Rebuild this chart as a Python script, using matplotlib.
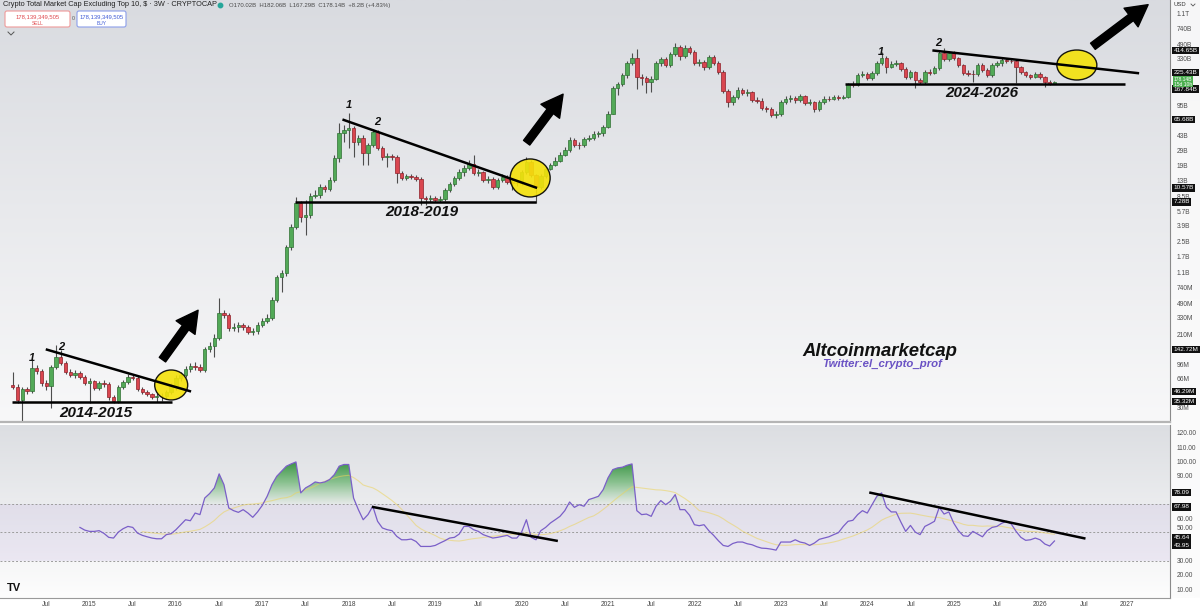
import numpy as np
import pandas as pd
import matplotlib
matplotlib.use("Agg")
import matplotlib.pyplot as plt
from matplotlib import patches, transforms
from matplotlib.colors import LinearSegmentedColormap, to_rgb
from matplotlib.path import Path
from matplotlib.ticker import NullLocator

plt.rcParams['font.family'] = ['Liberation Sans', 'DejaVu Sans']

# ---------------- data (3W candles, values in USD billions) ----------------
first_open = 0.055
closes = [0.052, 0.037, 0.049, 0.047, 0.087, 0.080, 0.058, 0.054, 0.089, 0.117,
          0.099, 0.078, 0.072, 0.076, 0.068, 0.058, 0.061, 0.051, 0.058, 0.057,
          0.040, 0.036, 0.052, 0.060, 0.068, 0.066, 0.049, 0.046, 0.043, 0.040,
          0.041, 0.0415, 0.046, 0.054, 0.066, 0.072, 0.085, 0.092, 0.089, 0.082,
          0.144, 0.156, 0.193, 0.376, 0.357, 0.252, 0.259, 0.273, 0.259, 0.227,
          0.233, 0.273, 0.304, 0.329, 0.532, 0.986, 1.09, 2.19, 3.74, 7.06,
          4.87, 5.14, 8.55, 8.78, 10.9, 10.3, 13.1, 23.5, 45.8, 49.6,
          52.4, 36.0, 40.2, 26.9, 33.3, 47.0, 30.7, 24.2, 24.8, 24.2,
          15.8, 13.8, 14.6, 14.2, 13.5, 8.09, 7.89, 8.09, 7.67, 7.89,
          10.0, 11.8, 13.8, 16.2, 18.0, 20.0, 15.8, 16.2, 13.1, 13.5,
          10.9, 13.1, 14.2, 12.4, 12.2, 12.1, 16.2, 21.1, 15.0, 10.9,
          14.6, 17.6, 19.5, 21.7, 25.5, 29.1, 38.0, 33.3, 33.0, 39.1,
          40.2, 44.6, 45.8, 53.9, 76.1, 152, 169, 215, 296, 339,
          204, 198, 178, 193, 296, 330, 281, 378, 454, 357,
          442, 398, 296, 305, 267, 348, 296, 233, 140, 104,
          119, 144, 133, 137, 110, 107, 89.1, 86.8, 74.1, 76.1,
          104, 113, 115, 110, 123, 101, 104, 86.8, 104, 113,
          112, 119, 116, 119, 169, 167, 215, 221, 198, 227,
          296, 339, 267, 289, 296, 253, 204, 233, 188, 178,
          233, 230, 260, 388, 330, 388, 339, 281, 227, 224,
          221, 281, 246, 215, 281, 296, 321, 316, 313, 267,
          233, 215, 204, 221, 204, 178, 170.02, 178.14]
highs = [0.078, 0.057, 0.052, 0.052, 0.117, 0.094, 0.085, 0.063, 0.094, 0.160,
         0.140, 0.104, 0.085, 0.082, 0.080, 0.072, 0.066, 0.063, 0.061, 0.063,
         0.060, 0.042, 0.055, 0.063, 0.074, 0.074, 0.070, 0.052, 0.048, 0.044,
         0.044, 0.044, 0.048, 0.058, 0.072, 0.078, 0.092, 0.099, 0.101, 0.096,
         0.152, 0.173, 0.215, 0.561, 0.407, 0.376, 0.288, 0.296, 0.288, 0.273,
         0.252, 0.296, 0.329, 0.367, 0.577, 1.04, 1.18, 2.31, 4.05, 8.32,
         7.47, 7.67, 9.23, 10.0, 11.8, 11.5, 14.2, 25.5, 59.8, 56.8,
         78.2, 55.3, 43.5, 43.5, 35.0, 51.1, 49.6, 32.4, 26.9, 26.2,
         25.5, 16.6, 15.4, 15.4, 15.0, 14.2, 8.55, 8.78, 8.55, 8.55,
         10.6, 12.4, 14.6, 17.6, 19.5, 22.3, 25.5, 17.6, 16.6, 14.6,
         14.2, 13.8, 15.4, 15.0, 13.5, 13.1, 17.1, 24.2, 22.3, 15.4,
         15.4, 18.5, 20.6, 24.2, 27.6, 31.6, 41.2, 40.2, 36.0, 41.2,
         43.5, 48.3, 48.3, 56.8, 82.5, 161, 178, 227, 313, 388,
         431, 221, 209, 209, 313, 348, 348, 398, 505, 479,
         479, 466, 420, 330, 321, 367, 367, 313, 246, 148,
         126, 156, 152, 148, 140, 119, 116, 94.0, 91.5, 82.5,
         110, 123, 126, 123, 130, 126, 113, 107, 110, 123,
         123, 126, 126, 126, 174, 183, 227, 240, 233, 240,
         313, 398, 357, 313, 321, 305, 267, 246, 240, 198,
         246, 253, 274, 409, 442, 409, 409, 348, 289, 246,
         246, 296, 296, 260, 296, 313, 339, 339, 339, 330,
         274, 240, 221, 233, 233, 209, 188, 182.06]
lows = [0.049, 0.034, 0.021, 0.043, 0.044, 0.074, 0.054, 0.048, 0.030, 0.085,
        0.094, 0.074, 0.068, 0.066, 0.065, 0.055, 0.034, 0.048, 0.048, 0.052,
        0.037, 0.034, 0.034, 0.049, 0.057, 0.063, 0.047, 0.043, 0.041, 0.038,
        0.035, 0.036, 0.038, 0.043, 0.048, 0.061, 0.068, 0.078, 0.082, 0.078,
        0.078, 0.133, 0.117, 0.183, 0.329, 0.233, 0.233, 0.227, 0.239, 0.215,
        0.209, 0.215, 0.259, 0.288, 0.312, 0.504, 0.659, 1.01, 2.02, 3.54,
        4.27, 3.02, 4.75, 8.09, 8.09, 9.48, 9.74, 12.4, 21.1, 36.0,
        30.7, 24.2, 33.3, 19.5, 19.5, 31.6, 29.1, 22.3, 18.5, 22.3,
        12.1, 13.1, 13.1, 13.5, 12.8, 6.72, 6.72, 7.27, 7.27, 7.27,
        7.47, 9.48, 11.2, 13.1, 14.6, 17.1, 15.0, 14.6, 12.4, 12.1,
        10.3, 10.3, 12.4, 11.8, 10.0, 11.2, 11.5, 15.4, 14.2, 7.06,
        10.3, 13.8, 17.1, 19.0, 21.1, 24.8, 27.6, 31.6, 29.9, 31.6,
        37.0, 38.0, 41.2, 42.4, 52.4, 76.1, 126, 161, 198, 281,
        148, 165, 133, 137, 188, 274, 267, 267, 357, 321,
        339, 378, 281, 274, 246, 253, 281, 221, 133, 91.5,
        96.5, 113, 126, 123, 104, 101, 84.7, 80.3, 70.2, 68.4,
        72.2, 99.1, 104, 101, 104, 96.5, 96.5, 80.3, 82.5, 99.1,
        107, 110, 110, 113, 116, 156, 161, 204, 188, 188,
        215, 281, 227, 260, 274, 240, 193, 193, 152, 169,
        169, 215, 221, 246, 313, 313, 321, 267, 215, 209,
        178, 209, 233, 204, 204, 267, 274, 296, 296, 174,
        221, 204, 193, 198, 193, 156, 165, 167.29]

# RSI(14), first value on bar 15
rsi_start = 14
rsi = [53.5, 51.6, 50.7, 50.7, 51.2, 49.3, 46.5, 46.0, 50.2, 52.6,
       54.2, 53.5, 49.5, 47.9, 46.9, 46.0, 45.5, 45.5, 48.4, 49.1,
       51.9, 55.4, 58.9, 58.2, 63.6, 62.5, 74.2, 77.3, 81.3, 91.2,
       83.6, 67.2, 65.3, 64.1, 66.0, 63.6, 60.6, 64.4, 69.1, 75.4,
       83.6, 89.5, 93.1, 96.6, 98.2, 99.6, 77.8, 81.3, 83.2, 85.5,
       84.8, 85.5, 87.2, 90.7, 96.6, 97.8, 97.8, 74.2, 66.0, 58.9,
       62.5, 68.4, 57.8, 53.1, 51.9, 51.2, 47.2, 44.8, 44.8, 45.3,
       43.6, 40.1, 40.1, 40.1, 40.8, 42.5, 44.1, 46.0, 46.5, 48.8,
       54.2, 54.2, 51.9, 50.7, 48.4, 47.2, 46.0, 46.5, 47.2, 47.9,
       46.0, 46.0, 50.2, 58.9, 46.5, 44.8, 51.2, 53.5, 56.6, 58.9,
       61.3, 65.3, 71.4, 67.6, 69.5, 68.4, 73.1, 74.2, 75.4, 80.1,
       88.4, 94.2, 95.4, 95.9, 97.3, 98.2, 65.3, 62.5, 62.9, 61.3,
       68.4, 72.4, 69.5, 71.9, 76.6, 66.0, 66.0, 62.0, 55.4, 54.7,
       55.4, 51.2, 47.9, 44.1, 40.8, 40.1, 42.2, 43.2, 43.2, 42.0,
       41.3, 39.9, 38.9, 38.7, 38.2, 37.5, 43.2, 43.2, 43.2, 44.8,
       43.2, 42.5, 40.8, 42.5, 45.1, 46.0, 46.9, 48.4, 49.8, 54.2,
       57.8, 58.5, 62.5, 65.3, 63.6, 69.5, 75.4, 77.8, 67.6, 64.4,
       64.4, 57.3, 50.7, 54.9, 50.2, 48.4, 54.2, 55.9, 57.8, 67.6,
       62.9, 64.4, 56.6, 51.2, 47.6, 47.2, 50.7, 48.8, 46.9, 51.2,
       53.5, 54.2, 56.4, 57.8, 55.9, 50.7, 46.5, 44.4, 44.8, 46.0,
       44.8, 41.8, 40.4, 43.95]

# drawings: (start year, end year, start value, end value) in $B
support_lines = [(2014.11, 2015.96, 0.03532, 0.03532),
                 (2017.38, 2020.17, 7.28, 7.28),
                 (2023.74, 2026.98, 167.84, 167.84)]
trend_lines = [(2014.50, 2016.18, 0.14272, 0.04629),
               (2017.93, 2020.18, 65.68, 10.57),
               (2024.75, 2027.14, 414.65, 225.43)]
rsi_lines = [(2018.27, 2020.42, 67.98, 43.95),
             (2024.02, 2026.52, 78.09, 45.64)]
circles = [(2015.95, 0.0551, 33, 30), (2020.10, 13.8, 40, 38), (2026.42, 281, 40, 30)]
arrows = [((2015.83, 0.102), (2016.28, 0.43)),
          ((2020.04, 33.3), (2020.50, 137)),
          ((2026.58, 443), (2027.27, 1470))]
range_labels = [(2015.08, 0.0261, '2014-2015'), (2018.85, 5.61, '2018-2019'),
                (2025.32, 134, '2024-2026')]
peak_labels = [(2014.34, 0.113, '1'), (2014.68, 0.152, '2'), (2018.00, 96.8, '1'),
               (2018.33, 61.9, '2'), (2024.15, 401, '1'), (2024.82, 509, '2')]

# axis tags: (value, text, where the tag box sits so stacked tags stay readable)
price_tags = [(414.65, '414.65B', 414.65), (225.43, '225.43B', 229),
              (167.84, '167.84B', 148), (65.68, '65.68B', 65.68),
              (10.57, '10.57B', 10.57), (7.28, '7.28B', 7.28),
              (0.14272, '142.72M', 0.14272), (0.04629, '46.29M', 0.04629),
              (0.03532, '35.32M', 0.03532)]
last_tag = (178.14, '178.14B\n15d 10h', 180)
rsi_tags = [(78.09, '78.09'), (67.98, '67.98'), (45.64, '45.64'), (43.95, '43.95')]
rsi_tag_pos = [78.09, 67.98, 46.4, 41.0]

y_ticks = [1100, 740, 490, 330, 95, 43, 29, 19, 13, 8.5, 5.7, 3.9, 2.5, 1.7, 1.1,
           0.74, 0.49, 0.33, 0.21, 0.096, 0.066, 0.030]
y_labels = ['1.1T', '740B', '490B', '330B', '95B', '43B', '29B', '19B', '13B', '8.5B',
            '5.7B', '3.9B', '2.5B', '1.7B', '1.1B', '740M', '490M', '330M', '210M',
            '96M', '66M', '30M']
rsi_ticks = [120, 110, 100, 90, 60, 30, 20, 10]
x_ticks = [2014.5, 2015, 2015.5, 2016, 2016.5, 2017, 2017.5, 2018, 2018.5, 2019, 2019.5,
           2020, 2020.5, 2021, 2021.5, 2022, 2022.5, 2023, 2023.5, 2024, 2024.5,
           2025, 2025.5, 2026, 2026.5, 2027]
x_labels = ['Jul', '2015', 'Jul', '2016', 'Jul', '2017', 'Jul', '2018', 'Jul', '2019', 'Jul',
            '2020', 'Jul', '2021', 'Jul', '2022', 'Jul', '2023', 'Jul', '2024', 'Jul',
            '2025', 'Jul', '2026', 'Jul', '2027']

# time axis of this chart
first_bar = 2014.118
bar_step = 0.0555
X0, X1 = 2013.971, 2027.497

# ---------------- figure ----------------
W, H = 1200, 609
fig = plt.figure(figsize=(W / 100, H / 100), dpi=100)


def box(x0, y0, x1, y1):
    return [x0 / W, 1 - y1 / H, (x1 - x0) / W, (y1 - y0) / H]


bg = fig.add_axes([0, 0, 1, 1], zorder=-5)


def vgrad(x0, x1, y0, y1, top, bot):
    s = np.linspace(0, 1, 200)[:, None]
    img = (np.array(to_rgb(top)) * (1 - s) + np.array(to_rgb(bot)) * s)[:, None, :]
    bg.imshow(img, extent=[x0, x1, y1, y0], aspect='auto', interpolation='bilinear')


vgrad(0, W, 0, H, '#ffffff', '#ffffff')
vgrad(0, 1170, 0, 423, '#d9dbe0', '#f8f8f9')
vgrad(0, 1170, 425, 598, '#dcdee2', '#fdfdfd')
vgrad(1170, W, 0, 598, '#f6f6f7', '#fcfcfc')
bg.set_xlim(0, W)
bg.set_ylim(H, 0)
bg.axis('off')

# header
bg.text(3, 5, 'Crypto Total Market Cap Excluding Top 10, $ · 3W · CRYPTOCAP',
        fontsize=5.3, color='#222222', va='center')
bg.plot([220], [5], 'o', ms=3.2, color='#26a69a')
bg.text(229, 5, 'O170.02B  H182.06B  L167.29B  C178.14B  +8.2B (+4.83%)',
        fontsize=4.3, color='#4a4a4a', va='center')
bg.add_patch(patches.FancyBboxPatch((5, 11), 65, 16, boxstyle='round,pad=0,rounding_size=2',
                                    fc='white', ec='#ef9a9a', lw=0.8))
bg.text(37.5, 16.5, '178,139,349,505', fontsize=4.2, color='#e0474c', ha='center', va='center')
bg.text(37.5, 23.5, 'SELL', fontsize=3.5, color='#e0474c', ha='center', va='center')
bg.text(73.5, 19, '0', fontsize=3.8, color='#555555', ha='center', va='center')
bg.add_patch(patches.FancyBboxPatch((77, 11), 49, 16, boxstyle='round,pad=0,rounding_size=2',
                                    fc='white', ec='#8c9eea', lw=0.8))
bg.text(101.5, 16.5, '178,139,349,505', fontsize=4.2, color='#3f5bd6', ha='center', va='center')
bg.text(101.5, 23.5, 'BUY', fontsize=3.5, color='#3f5bd6', ha='center', va='center')
bg.plot([8, 11, 14], [32, 35, 32], color='#555555', lw=0.7)
bg.text(1173, 5, 'USD', fontsize=4.2, color='#333333', va='center')
bg.plot([1191, 1193, 1195], [4, 6, 4], color='#555555', lw=0.6)
bg.text(14, 588, 'TV', fontsize=8, fontweight='heavy', color='#111111', ha='center', va='center')

# ---------------- price pane ----------------
ax = fig.add_axes(box(0, 0, 1170, 422))
ax.patch.set_visible(False)
ax.set_yscale('log')

n = len(closes)
t = first_bar + bar_step * np.arange(n)
c = np.array(closes, dtype=float)
o = np.r_[first_open, c[:-1]]
hi = np.maximum.reduce([np.array(highs, dtype=float), o, c])
lo = np.minimum.reduce([np.array(lows, dtype=float), o, c])
up = c >= o
face = np.where(up, '#52a957', '#d9464f')
edge = np.where(up, '#2f6f33', '#8e2029')

ax.vlines(t, lo, hi, colors='#4d4d4d', lw=0.8, zorder=2)
ax.bar(t, np.abs(c - o), bottom=np.minimum(o, c), width=0.04, color=face,
       edgecolor=edge, linewidth=0.5, zorder=3)

ax.set_xlim(X0, X1)
ax.set_ylim(0.02052, 1592)

for (x1, x2, v1, v2) in support_lines + trend_lines:
    ax.plot([x1, x2], [v1, v2], color='black', lw=1.8, zorder=5, solid_capstyle='butt')

for (cx, cv, w, h) in circles:
    px, py = ax.transData.transform((cx, cv))
    ax.add_patch(patches.Ellipse((px, py), w, h, transform=transforms.IdentityTransform(),
                                 fc='#f5e20a', ec='black', lw=1.0, alpha=0.9, zorder=4))

for (a, b) in arrows:
    ax.add_patch(patches.FancyArrowPatch(
        a, b, arrowstyle='simple,head_length=1.1,head_width=1.2,tail_width=0.4',
        mutation_scale=14, color='black', zorder=6, clip_on=False))

for (x, v, s) in range_labels:
    ax.text(x, v, s, fontsize=11, fontweight='bold', fontstyle='italic', color='#111111',
            ha='center', va='center', zorder=7)
for (x, v, s) in peak_labels:
    ax.text(x, v, s, fontsize=8, fontweight='bold', fontstyle='italic', color='#111111',
            ha='center', va='center', zorder=7)

ax.yaxis.tick_right()
ax.set_yticks(y_ticks)
ax.set_yticklabels(y_labels)
ax.yaxis.set_minor_locator(NullLocator())
ax.tick_params(axis='y', which='both', length=0, pad=5, labelsize=4.8, labelcolor='#4d4d4d')
ax.set_xticks([])
for s in ['top', 'left']:
    ax.spines[s].set_visible(False)
ax.spines['right'].set_color('#8a8a8a')
ax.spines['right'].set_linewidth(0.8)
ax.spines['bottom'].set_color('#b5b5b5')
ax.spines['bottom'].set_linewidth(1.6)

blend = transforms.blended_transform_factory(ax.transAxes, ax.transData)
for v, s, pos in price_tags:
    ax.text(1.003, pos, s, transform=blend, fontsize=4.6, color='white', ha='left', va='center',
            bbox=dict(boxstyle='square,pad=0.2', fc='#111111', ec='none'), clip_on=False, zorder=20)
ax.text(1.003, last_tag[2], last_tag[1], transform=blend, fontsize=3.6, color='white',
        ha='left', va='center', linespacing=1.0,
        bbox=dict(boxstyle='square,pad=0.12', fc='#4caf50', ec='none'), clip_on=False, zorder=21)

fig.text(880 / W, 1 - 351 / H, 'Altcoinmarketcap', fontsize=13.3, fontweight='bold',
         fontstyle='italic', color='#111111', ha='center', va='center')
fig.text(882 / W, 1 - 364 / H, 'Twitter:el_crypto_prof', fontsize=8.2, fontweight='bold',
         fontstyle='italic', color='#6a52c4', ha='center', va='center')

# ---------------- RSI pane ----------------
ax2 = fig.add_axes(box(0, 425, 1170, 598))
ax2.patch.set_visible(False)
rsi_full = np.full(n, np.nan)
rsi_full[rsi_start:rsi_start + len(rsi)] = rsi
rsi_ma = pd.Series(rsi_full).rolling(14).mean().to_numpy()

ax2.axhspan(30, 70, color='#7e57c2', alpha=0.09, lw=0, zorder=1)
for lvl in (70, 50, 30):
    ax2.axhline(lvl, color='#9c9c9c', lw=0.7, ls=(0, (2, 2)), zorder=1)

above = np.nan_to_num(rsi_full, nan=0) > 70
fb = ax2.fill_between(t, 70, np.nan_to_num(rsi_full, nan=70), where=above, interpolate=True,
                      facecolor='none', edgecolor='none')
paths = fb.get_paths()
if paths:
    clip = Path.make_compound_path(*paths)
    cmap = LinearSegmentedColormap.from_list(
        'ob', [(0.42, 0.72, 0.42, 0.05), (0.30, 0.66, 0.33, 0.6), (0.18, 0.55, 0.22, 0.95)])
    img = ax2.imshow(np.linspace(0, 1, 100).reshape(-1, 1), extent=[X0, X1, 70, 100],
                     origin='lower', aspect='auto', cmap=cmap, zorder=2)
    img.set_clip_path(clip, transform=ax2.transData)

ax2.plot(t, rsi_ma, color='#ecd35a', lw=0.8, alpha=0.55, zorder=3)
ax2.plot(t, rsi_full, color='#7a5fc8', lw=0.9, zorder=4)
for (x1, x2, v1, v2) in rsi_lines:
    ax2.plot([x1, x2], [v1, v2], color='black', lw=1.8, zorder=5, solid_capstyle='butt')

ax2.set_xlim(X0, X1)
ax2.set_ylim(3.8, 125.6)
ax2.yaxis.tick_right()
ax2.set_yticks(rsi_ticks)
ax2.set_yticklabels(['%.2f' % v for v in rsi_ticks])
ax2.tick_params(axis='y', length=0, pad=5, labelsize=4.8, labelcolor='#4d4d4d')
ax2.set_xticks(x_ticks)
ax2.set_xticklabels(x_labels)
ax2.tick_params(axis='x', length=0, pad=2.5, labelsize=4.8, labelcolor='#444444')
for s in ['top', 'left']:
    ax2.spines[s].set_visible(False)
ax2.spines['right'].set_color('#8a8a8a')
ax2.spines['right'].set_linewidth(0.8)
ax2.spines['bottom'].set_color('#9a9a9a')
ax2.spines['bottom'].set_linewidth(0.8)

blend2 = transforms.blended_transform_factory(ax2.transAxes, ax2.transData)
for (v, s), pos in zip(rsi_tags, rsi_tag_pos):
    ax2.text(1.003, pos, s, transform=blend2, fontsize=4.6, color='white', ha='left', va='center',
             bbox=dict(boxstyle='square,pad=0.2', fc='#111111', ec='none'), clip_on=False, zorder=20)
ax2.text(1.0055, 52.8, '50.00', transform=blend2, fontsize=4.8, color='#4d4d4d',
         ha='left', va='center', clip_on=False)

fig.savefig('out.png', dpi=100)
